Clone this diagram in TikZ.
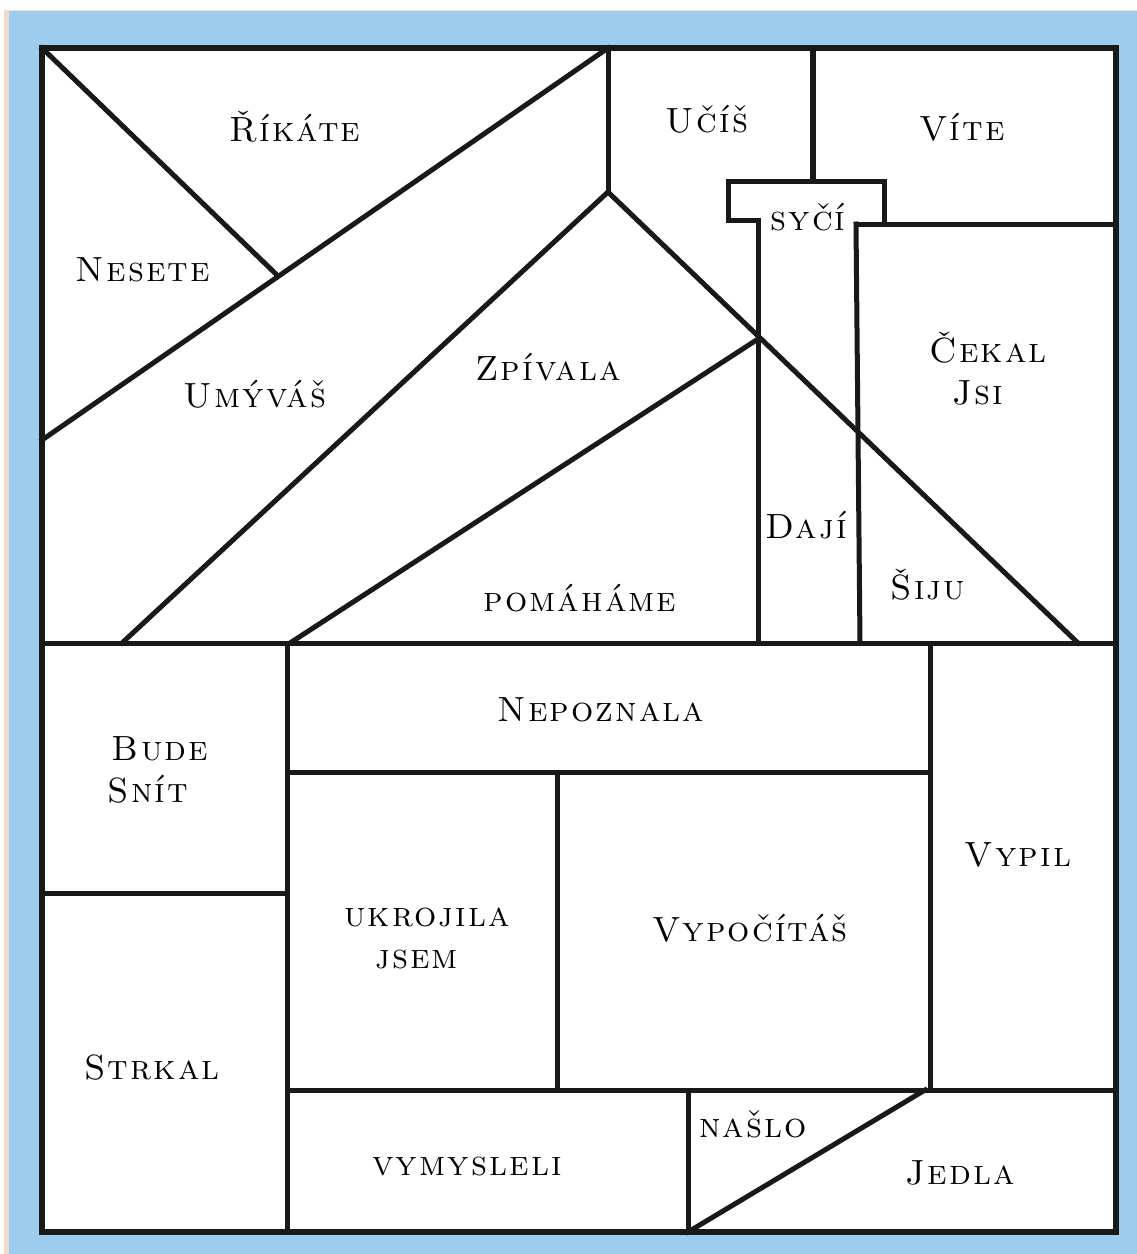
\documentclass[tikz,border=0pt]{standalone}
\usepackage{fontspec}
\definecolor{frameblue}{RGB}{158,204,236}
\definecolor{edgebeige}{RGB}{236,222,205}
\newfontfamily\lblfont{lmroman10-regular.otf}[LetterSpace=6,SmallCapsFont=lmromancaps10-regular.otf,SmallCapsFeatures={LetterSpace=6}]
\tikzset{
  wall/.style={line width=5pt, line cap=rect, line join=miter, black!90},
  thickwall/.style={line width=6.5pt, line cap=rect, black!90},
  lbl/.style={font=\lblfont\fontsize{35}{42}\selectfont\scshape, align=center, inner sep=0pt},
}
\begin{document}
\begin{tikzpicture}[x=1pt,y=-1pt]
\useasboundingbox (0,0) rectangle (1137,1254);
\fill[white] (0,0) rectangle (1137,1254);
\fill[edgebeige] (4,10) rectangle (1137,1254);
\fill[frameblue] (9,11) rectangle (1137,1254);
\fill[white] (42,48) rectangle (1116,1232);

% key points
\coordinate (TL) at (42,48);
\coordinate (BR) at (1116,1232);
\coordinate (apex) at (608,48);
\coordinate (peak) at (608,192);
\coordinate (Lmid) at (42,440);
\coordinate (knot) at (278,276);
\coordinate (cross) at (758,339);
\coordinate (m1) at (42,643);
\coordinate (m2) at (1116,643);

% top section
\draw[wall] (TL) -- (knot);
\draw[wall] (Lmid) -- (apex);
\draw[wall] (apex) -- (peak);
\draw[wall] (peak) -- (122,643);
\draw[wall] (peak) -- (1078,643);
\draw[wall] (cross) -- (290,643);
\draw[thickwall] (813,48) -- (813,180);
% syci box
\draw[wall] (758,643) -- (758,220) -- (728,220) -- (728,181) -- (884,181) -- (884,222);
\draw[wall] (856,224) -- (1116,224);
\draw[wall] (856,224) -- (860,643);

% bottom section
\draw[wall] (m1) -- (m2);
\draw[wall] (287,643) -- (287,1232);
\draw[wall] (42,893) -- (287,893);
\draw[wall] (287,772) -- (930,772);
\draw[wall] (930,643) -- (930,1090);
\draw[wall] (557,772) -- (557,1090);
\draw[wall] (287,1090) -- (1116,1090);
\draw[wall] (688,1090) -- (688,1232);
\draw[wall] (688,1232) -- (925,1090);

% outer frame
\draw[line width=6pt, black!90] (TL) rectangle (BR);

% labels
\node[lbl] (rikate) at (295,127) {Říkáte};
\node[lbl] (nesete) at (143,270) {Nesete};
\node[lbl] (umyvas) at (255,394) {Umýváš};
\node[lbl] (zpivala) at (548,367) {Zpívala};
\node[lbl] (ucis) at (707,119) {Učíš};
\node[lbl] (vite) at (962,127) {Víte};
\node[lbl] (syci) at (808,217) {syčí};
\node[lbl] (cekal) at (988,369) {Čekal\\\hspace*{-0.6em}Jsi};
\node[lbl] (daji) at (806,525) {Dají};
\node[lbl] (siju) at (928,585) {Šiju};
\node[lbl] (pomahame) at (580,598) {pomáháme};
\node[lbl] (nepoznala) at (601,710) {Nepoznala};
\node[lbl] (budesnit) at (160,770) {Bude\\\hspace*{-0.7em}Snít};
\node[lbl] (ukrojila) at (427,938) {ukrojila\\\hspace*{-0.6em}jsem};
\node[lbl] (vypocitas) at (750,928) {Vypočítáš};
\node[lbl] (vypil) at (1018,855) {Vypil};
\node[lbl] (strkal) at (152,1068) {Strkal};
\node[lbl] (vymysleli) at (467,1166) {vymysleli};
\node[lbl] (naslo) at (753,1124) {našlo};
\node[lbl] (jedla) at (960,1173) {Jedla};
\end{tikzpicture}
\end{document}
